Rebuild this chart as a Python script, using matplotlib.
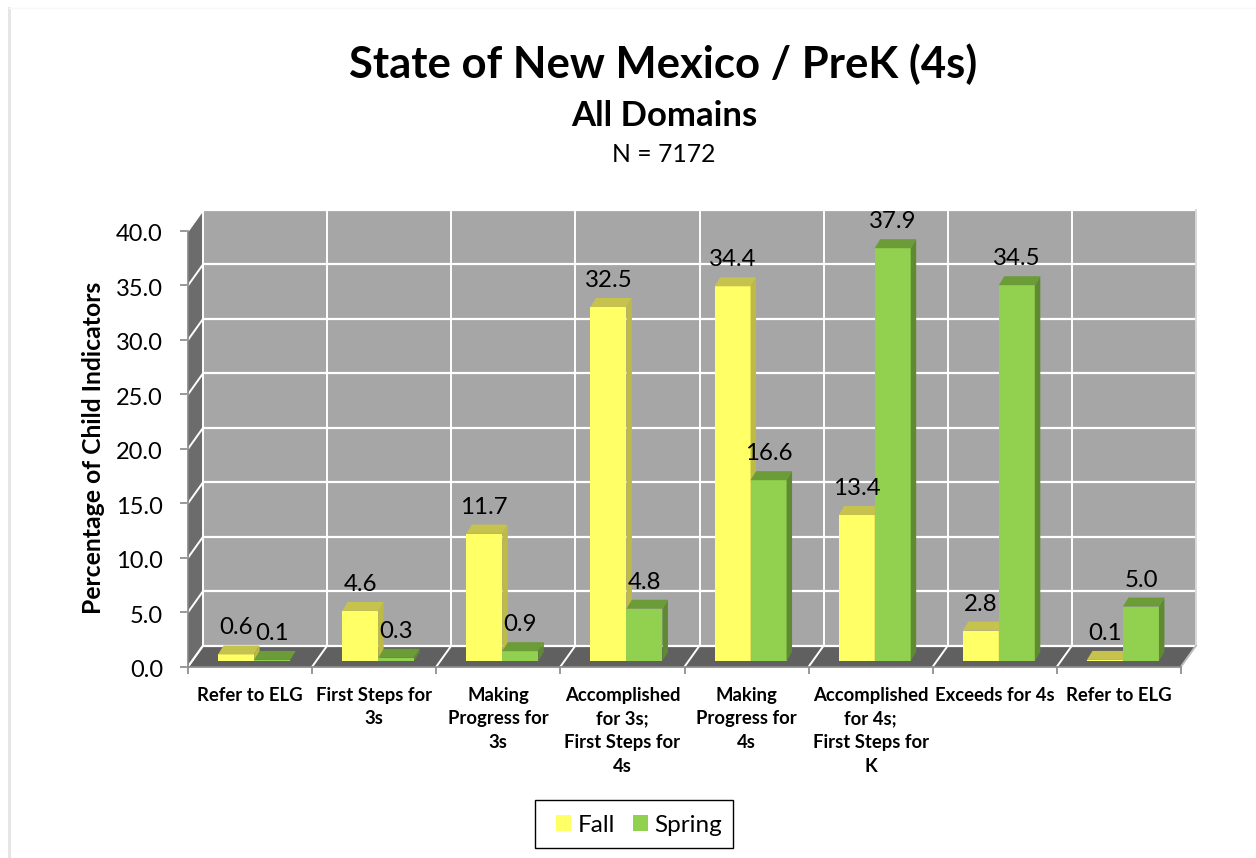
import matplotlib
matplotlib.use("Agg")
import matplotlib.pyplot as plt
from matplotlib.patches import Patch, Polygon, Rectangle
from matplotlib.lines import Line2D
from matplotlib.transforms import Affine2D
import numpy as np

categories = ["Refer to ELG", "First Steps for\n3s", "Making\nProgress for\n3s",
              "Accomplished\nfor 3s;\nFirst Steps for\n4s", "Making\nProgress for\n4s",
              "Accomplished\nfor 4s;\nFirst Steps for\nK", "Exceeds for 4s", "Refer to ELG"]
fall = [0.6, 4.6, 11.7, 32.5, 34.4, 13.4, 2.8, 0.1]
spring = [0.1, 0.3, 0.9, 4.8, 16.6, 37.9, 34.5, 5.0]
y_ticks = [0, 5, 10, 15, 20, 25, 30, 35, 40]

plt.rcParams['font.family'] = ['Lato', 'DejaVu Sans']
W, H = 1256, 858
fig = plt.figure(figsize=(W/100, H/100), dpi=100, facecolor='white')
L, R, T, B = 188, 1181, 231, 666.7
ax = fig.add_axes([L/W, (H-B)/H, (R-L)/W, (B-T)/H])
ax.set_xlim(0, 8)
ax.set_ylim(0, 40)
ax.patch.set_visible(False)

px_x = (R-L)/8
px_y = (B-T)/40
to_dx = lambda p: p/px_x
to_dy = lambda p: p/px_y

WALL, FLOOR, SIDE = '#A6A6A6', '#606060', '#6C6C6C'
GREY = '#868686'
back_x, back_y = to_dx(15), to_dy(21)
off_x, off_y = to_dx(4), to_dy(5.7)
dep_x, dep_y = to_dx(5.5), to_dy(9)
bar_w = 36/px_x

# walls and floor
ax.add_patch(Rectangle((back_x, back_y), 8, 40, fc=WALL, ec='none', zorder=1, clip_on=False))
ax.add_patch(Polygon([(0, 0), (back_x, back_y), (back_x, 40+back_y), (0, 40)], fc=SIDE, ec='none', zorder=1, clip_on=False))
ax.add_patch(Polygon([(0, 0), (8, 0), (8+back_x, back_y), (back_x, back_y)], fc=FLOOR, ec='none', zorder=1, clip_on=False))

# grid lines
for v in y_ticks:
    ax.plot([back_x, 8+back_x], [v+back_y]*2, color='white', lw=1.6, zorder=2, clip_on=False, solid_capstyle='butt')
    ax.plot([0, back_x], [v, v+back_y], color='white', lw=1.4, zorder=2, clip_on=False)
for i in range(9):
    ax.plot([i+back_x]*2, [back_y, 40+back_y], color='white' if i < 8 else '#D9D9D9', lw=1.4, zorder=2, clip_on=False)
    ax.plot([i, i+back_x], [0, back_y], color='white' if i < 8 else '#BFBFBF', lw=1.4, zorder=2, clip_on=False)

# bars
x = np.arange(8) + 0.5
for pos, vals, face, top, side, z in [
    (x-bar_w/2, fall, '#FFFF66', '#C6C24E', '#BDBA45', 3),
    (x+bar_w/2, spring, '#92D050', '#6C9C38', '#5F8A32', 4)]:
    ax.bar(pos+off_x, vals, width=bar_w, bottom=off_y, color=face, zorder=z, linewidth=0, clip_on=False)
    for xc, v in zip(pos, vals):
        x0 = xc + off_x - bar_w/2
        x1 = x0 + bar_w
        y0 = off_y
        y1 = off_y + v
        ax.add_patch(Polygon([(x0, y1), (x1, y1), (x1+dep_x, y1+dep_y), (x0+dep_x, y1+dep_y)], fc=top, ec='none', zorder=z, clip_on=False))
        ax.add_patch(Polygon([(x1, y0), (x1+dep_x, y0+dep_y), (x1+dep_x, y1+dep_y), (x1, y1)], fc=side, ec='none', zorder=z, clip_on=False))
        ax.text(xc+off_x, y1+to_dy(26.5), f"{v:.1f}", ha='center', va='center', fontsize=17.3, color='black', zorder=6, clip_on=False)

# axes
for s in ['top', 'right']:
    ax.spines[s].set_visible(False)
for s in ['left', 'bottom']:
    ax.spines[s].set_color(GREY)
    ax.spines[s].set_linewidth(1.2)
    ax.spines[s].set_zorder(2)
ax.set_yticks(y_ticks)
ax.set_yticklabels([f"{v:.1f}" for v in y_ticks], fontsize=17)
ax.tick_params(axis='y', length=6, width=1.2, color=GREY, pad=12)
for lbl in ax.get_yticklabels():
    lbl.set_transform(lbl.get_transform() + Affine2D().translate(0, -2))
ax.set_xticks(range(9))
ax.set_xticklabels([])
ax.tick_params(axis='x', which='major', length=5, width=1.2, color=GREY)
ax.set_xticks(x, minor=True)
ax.set_xticklabels(categories, minor=True, fontsize=13.3, fontweight='bold', linespacing=1.47)
ax.tick_params(axis='x', which='minor', length=0, pad=14.5)

fig.text(93.5/W, 1-448/H, "Percentage of Child Indicators", rotation=90, ha='center', va='center', fontsize=17.8, fontweight='bold')
fig.text(663/W, 1-64/H, "State of New Mexico / PreK (4s)", ha='center', va='center', fontsize=31.4, fontweight='bold')
fig.text(664/W, 1-116/H, "All Domains", ha='center', va='center', fontsize=25, fontweight='bold')
fig.text(663.5/W, 1-155/H, "N = 7172", ha='center', va='center', fontsize=17.8)

fig.add_artist(Rectangle((535/W, 1-848/H), 198/W, 48/H, fc='white', ec='black', lw=1.0, transform=fig.transFigure))
leg = fig.legend(handles=[Patch(fc='#FFFF66', label='Fall'), Patch(fc='#92D050', label='Spring')],
                 loc='center', bbox_to_anchor=(639/W, 1-825/H), ncol=2, frameon=False,
                 fontsize=17.5, handlelength=0.62, handleheight=0.65,
                 handletextpad=0.26, columnspacing=0.75, borderpad=0, borderaxespad=0)
leg.set_zorder(5)

# slide shadow
fig.add_artist(Line2D([9/W, 9/W], [0, 1-8/H], color='#E4E4E4', lw=2, transform=fig.transFigure))
fig.add_artist(Line2D([9/W, 1], [1-8/H, 1-8/H], color='#F8F8F8', lw=1, transform=fig.transFigure))

fig.savefig('out.png', dpi=100)
